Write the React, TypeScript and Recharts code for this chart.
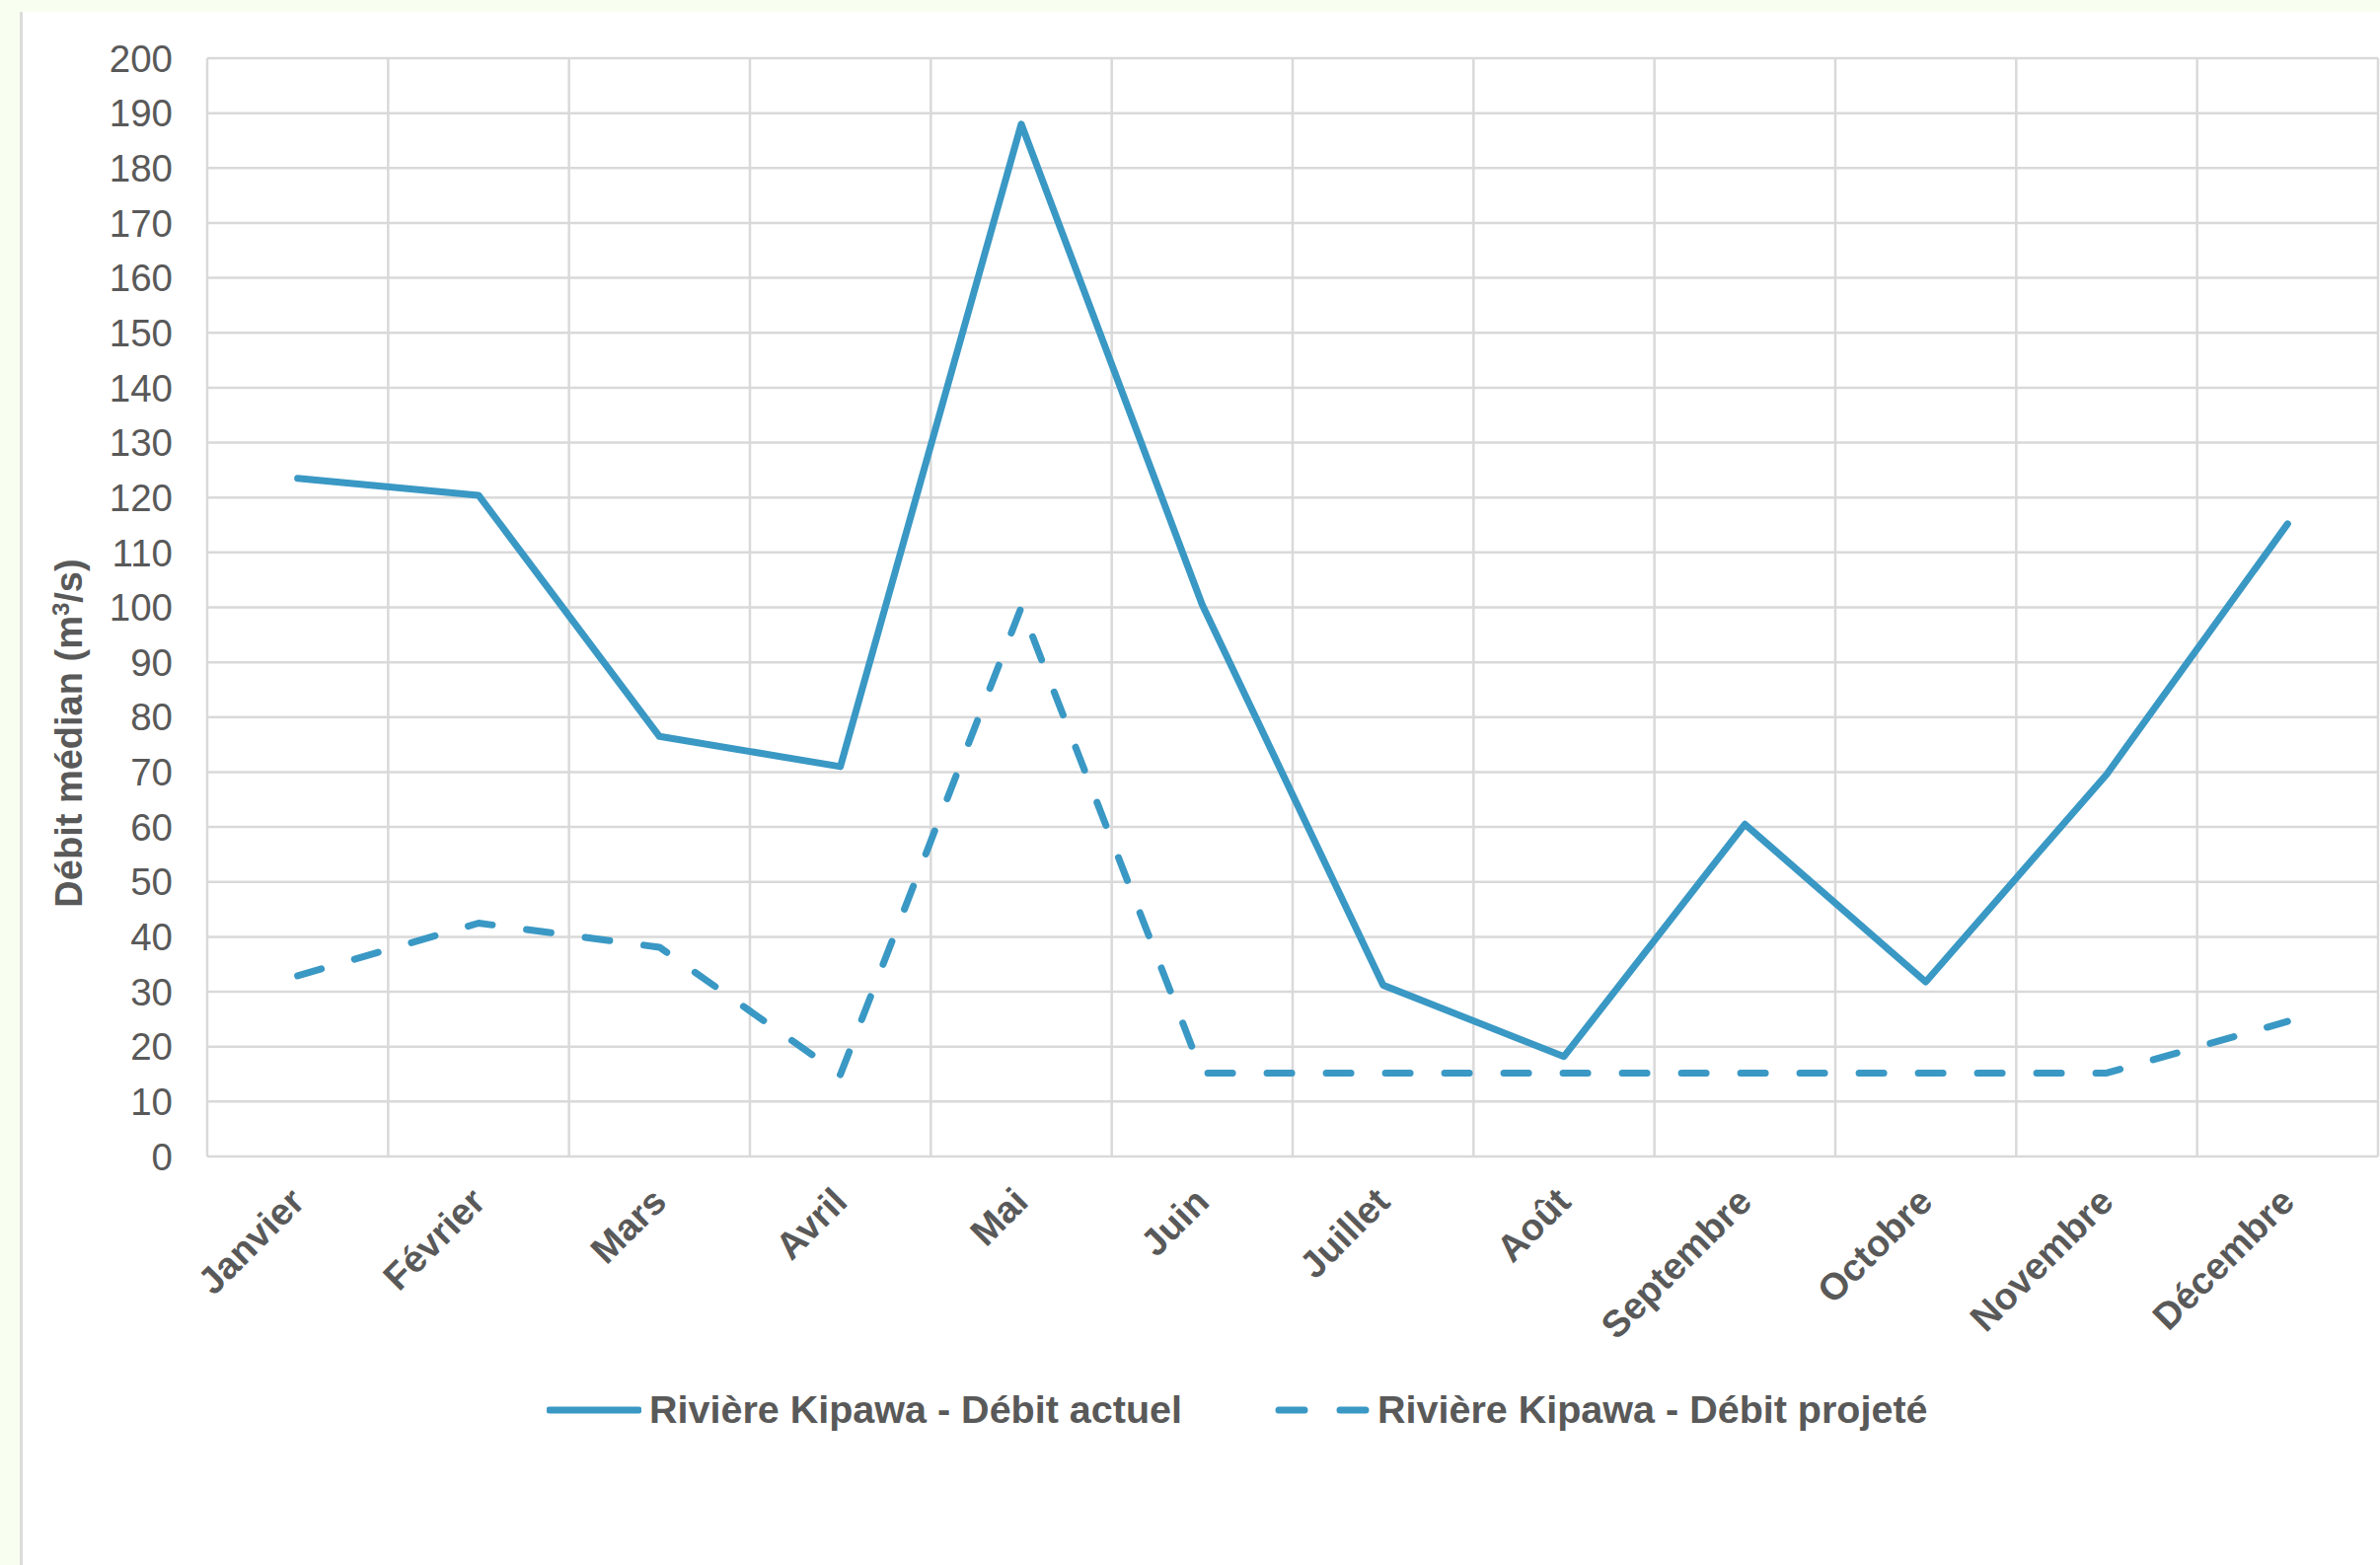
import React from "react"
import { CartesianGrid, Legend, Line, LineChart, XAxis, YAxis } from "recharts"

const months = [
  "Janvier",
  "Février",
  "Mars",
  "Avril",
  "Mai",
  "Juin",
  "Juillet",
  "Août",
  "Septembre",
  "Octobre",
  "Novembre",
  "Décembre",
]

const debitActuel = [123.5, 120.4, 76.5, 71, 188, 100.5, 31.2, 18.2, 60.5, 31.8, 69.6, 115.2]
const debitProjete = [32.9, 42.5, 38.1, 14.9, 100, 15.2, 15.2, 15.2, 15.2, 15.2, 15.2, 24.6]

const yTicks = [0, 10, 20, 30, 40, 50, 60, 70, 80, 90, 100, 110, 120, 130, 140, 150, 160, 170, 180, 190, 200]

const seriesNames = ["Rivière Kipawa - Débit actuel", "Rivière Kipawa - Débit projeté"]

const data = months.map((month, i) => ({
  month,
  actuel: debitActuel[i],
  projete: debitProjete[i],
}))

const FONT = "'Liberation Sans', Arial, sans-serif"
const TEXT = "#595959"
const BLUE = "#3a98c4"
const GRID = "#d9d9d9"

function MonthTick({ x, y, payload }: any) {
  return (
    <g transform={`translate(${x + 9},${y + 48}) rotate(-45)`}>
      <text textAnchor="end" fill={TEXT} fontFamily={FONT} fontSize={38} fontWeight="bold">
        {payload.value}
      </text>
    </g>
  )
}

function LegendContent() {
  return (
    <div style={{ display: "flex", alignItems: "center", fontFamily: FONT, fontSize: 39.5, fontWeight: "bold", color: TEXT }}>
      <svg width={96} height={20} style={{ marginRight: 8 }}>
        <line x1={3} y1={10} x2={93} y2={10} stroke={BLUE} strokeWidth={7} strokeLinecap="round" />
      </svg>
      <span>{seriesNames[0]}</span>
      <svg width={96} height={20} style={{ marginLeft: 94, marginRight: 8 }}>
        <line x1={4} y1={10} x2={92} y2={10} stroke={BLUE} strokeWidth={7} strokeLinecap="round" strokeDasharray="26 36" />
      </svg>
      <span>{seriesNames[1]}</span>
    </div>
  )
}

export default function App() {
  return (
    <div style={{ position: "absolute", left: 0, top: 0, width: 2412, height: 1586, background: "#f8fff1", overflow: "hidden" }}>
      <div
        style={{
          position: "absolute",
          left: 20,
          top: 12,
          right: 0,
          bottom: 0,
          background: "#ffffff",
          borderLeft: "3px solid #dcdcdc",
        }}
      />
      <div style={{ position: "absolute", left: 0, top: 0 }}>
        <LineChart width={2412} height={1586} data={data} margin={{ top: 59, right: 2, bottom: 214, left: 0 }}>
          <CartesianGrid
            stroke={GRID}
            strokeWidth={2.5}
            verticalCoordinatesGenerator={({ offset }: any) =>
              months.map((_, i) => offset.left + (i * offset.width) / months.length).concat(offset.left + offset.width)
            }
          />
          <XAxis
            dataKey="month"
            scale="band"
            interval={0}
            height={200}
            axisLine={false}
            tickLine={false}
            tickSize={0}
            tickMargin={0}
            tick={<MonthTick />}
          />
          <YAxis
            width={210}
            domain={[0, 200]}
            ticks={yTicks}
            interval={0}
            axisLine={false}
            tickLine={false}
            tickSize={0}
            tickMargin={35}
            tick={{ fill: TEXT, fontSize: 38.5, fontFamily: FONT }}
            label={{
              content: () => (
                <text
                  transform="translate(83,743) rotate(-90)"
                  textAnchor="middle"
                  fill={TEXT}
                  fontFamily={FONT}
                  fontSize={38}
                  fontWeight="bold"
                >
                  Débit médian (m<tspan baselineShift="super" fontSize={24}>3</tspan>/s)
                </text>
              ),
            }}
          />
          <Legend
            layout="vertical"
            align="center"
            verticalAlign="middle"
            content={<LegendContent />}
            wrapperStyle={{ left: 554, top: 1406, width: 1700, height: 52 }}
          />
          <Line
            type="linear"
            dataKey="actuel"
            name={seriesNames[0]}
            stroke={BLUE}
            strokeWidth={7}
            strokeLinejoin="round"
            strokeLinecap="round"
            dot={false}
            activeDot={false}
            isAnimationActive={false}
          />
          <Line
            type="linear"
            dataKey="projete"
            name={seriesNames[1]}
            stroke={BLUE}
            strokeWidth={7}
            strokeDasharray="25 35"
            strokeLinejoin="round"
            strokeLinecap="round"
            dot={false}
            activeDot={false}
            isAnimationActive={false}
          />
        </LineChart>
      </div>
    </div>
  )
}
